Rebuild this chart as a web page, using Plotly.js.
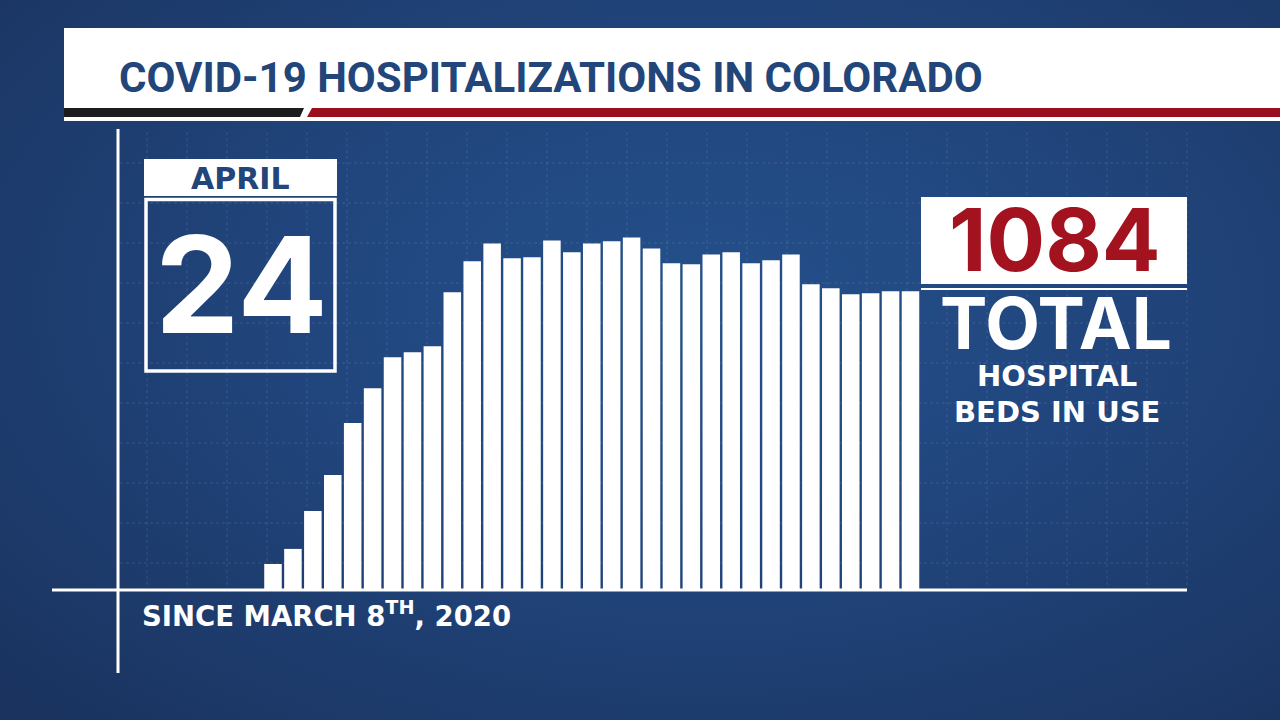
<!DOCTYPE html>
<html>
<head>
<meta charset="utf-8">
<script src="https://cdn.plot.ly/plotly-3.0.1.min.js"></script>
<style>
  html, body { margin: 0; padding: 0; width: 1280px; height: 720px; overflow: hidden;
    background: radial-gradient(ellipse 75% 80% at 55% 42%, #24508a 0%, #21467e 40%, #1d3b6c 75%, #1a335f 100%); }
  #chart { width: 1280px; height: 720px; }
</style>
</head>
<body>
<div id="chart"></div>
<script>
// ---- data ----
const days = ["Mar 23","Mar 24","Mar 25","Mar 26","Mar 27","Mar 28","Mar 29","Mar 30","Mar 31",
  "Apr 1","Apr 2","Apr 3","Apr 4","Apr 5","Apr 6","Apr 7","Apr 8","Apr 9","Apr 10","Apr 11",
  "Apr 12","Apr 13","Apr 14","Apr 15","Apr 16","Apr 17","Apr 18","Apr 19","Apr 20","Apr 21",
  "Apr 22","Apr 23","Apr 24"];
const hospitalized = [91,146,284,415,604,731,844,862,884,1080,1193,1258,1204,1208,1269,1226,1258,
  1266,1280,1240,1186,1182,1218,1226,1186,1197,1218,1109,1095,1073,1077,1084,1084];
const titleText = "COVID-19 HOSPITALIZATIONS IN COLORADO";
const monthLabel = "APRIL";
const dayLabel = "24";
const totalLabel = "TOTAL";
const subLabel1 = "HOSPITAL";
const subLabel2 = "BEDS IN USE";
const sinceLabel = "SINCE MARCH 8<sup>TH</sup>, 2020";

// ---- helpers (pixel -> paper) ----
const W = 1280, H = 720;
const px = x => x / W;
const py = y => 1 - y / H;

const navy = "#22457a";
const red = "#a3121f";
const bigFont = "Inter, 'Open Sans', sans-serif";
const wideFont = "'DejaVu Sans', Verdana, sans-serif";
const titleFont = "Roboto, 'Liberation Sans', sans-serif";

const shapes = [];
// dotted background grid
const gridStyle = {color: "rgba(140,170,215,0.22)", width: 1, dash: "dot"};
for (let x = 147; x <= 1187; x += 40) {
  shapes.push({type: "line", xref: "paper", yref: "paper", x0: px(x), x1: px(x), y0: py(132), y1: py(588), line: gridStyle, layer: "below"});
}
for (let y = 163; y <= 588; y += 40) {
  shapes.push({type: "line", xref: "paper", yref: "paper", x0: px(120), x1: px(1187), y0: py(y), y1: py(y), line: gridStyle, layer: "below"});
}
// title banner
shapes.push({type: "rect", xref: "paper", yref: "paper", x0: px(64), x1: px(1280), y0: py(28), y1: py(121), fillcolor: "#ffffff", line: {width: 0}, layer: "below"});
shapes.push({type: "path", xref: "paper", yref: "paper",
  path: `M ${px(64)} ${py(108)} L ${px(304)} ${py(108)} L ${px(300)} ${py(117)} L ${px(64)} ${py(117)} Z`,
  fillcolor: "#1c1c1c", line: {width: 0}, layer: "below"});
shapes.push({type: "path", xref: "paper", yref: "paper",
  path: `M ${px(312)} ${py(108)} L ${px(1280)} ${py(108)} L ${px(1280)} ${py(117)} L ${px(307)} ${py(117)} Z`,
  fillcolor: "#9a0f20", line: {width: 0}, layer: "below"});
// frame lines
shapes.push({type: "line", xref: "paper", yref: "paper", x0: px(118), x1: px(118), y0: py(129), y1: py(673), line: {color: "#ffffff", width: 3}});
shapes.push({type: "line", xref: "paper", yref: "paper", x0: px(52), x1: px(1187), y0: py(590), y1: py(590), line: {color: "#ffffff", width: 3}});
// date box
shapes.push({type: "rect", xref: "paper", yref: "paper", x0: px(144), x1: px(337), y0: py(159), y1: py(196), fillcolor: "#ffffff", line: {width: 0}});
shapes.push({type: "rect", xref: "paper", yref: "paper", x0: px(146), x1: px(335), y0: py(199.5), y1: py(371), fillcolor: "rgba(0,0,0,0)", line: {color: "#ffffff", width: 3.5}});
// total box
shapes.push({type: "rect", xref: "paper", yref: "paper", x0: px(921), x1: px(1187), y0: py(197), y1: py(284), fillcolor: "#ffffff", line: {width: 0}});
shapes.push({type: "line", xref: "paper", yref: "paper", x0: px(921), x1: px(1187), y0: py(289), y1: py(289), line: {color: "#ffffff", width: 2}});

const ann = (text, x, y, size, color, anchor, family) => ({
  text: text, xref: "paper", yref: "paper", x: px(x), y: py(y), showarrow: false,
  xanchor: anchor || "center", yanchor: "middle",
  font: {family: family || bigFont, size: size, color: color, weight: 700}
});

const annotations = [
  ann(titleText, 117, 77.5, 42, navy, "left", titleFont),
  ann(monthLabel, 240, 178.5, 30, navy, "center", wideFont),
  ann(dayLabel, 241, 284, 134, "#ffffff"),
  ann(String(hospitalized[hospitalized.length - 1]), 1055, 239.5, 87, red),
  ann(totalLabel, 1056, 322.5, 71, "#ffffff"),
  ann(subLabel1, 1057, 375.5, 29, "#ffffff", "center", wideFont),
  ann(subLabel2, 1057, 412, 29, "#ffffff", "center", wideFont),
  ann(sinceLabel, 140, 614, 27.5, "#ffffff", "left", wideFont)
];

const trace = {
  type: "bar", x: days, y: hospitalized,
  marker: {color: "#ffffff", line: {width: 0}},
  hoverinfo: "x+y"
};

const layout = {
  width: W, height: H,
  margin: {l: 0, r: 0, t: 0, b: 0, pad: 0},
  paper_bgcolor: "rgba(0,0,0,0)",
  plot_bgcolor: "rgba(0,0,0,0)",
  showlegend: false,
  bargap: 0.12,
  xaxis: {type: "category", domain: [px(120), px(920)], range: [-7.68, 32.477], visible: false, fixedrange: true},
  yaxis: {domain: [py(589), py(130)], range: [0, 1671], visible: false, fixedrange: true},
  shapes: shapes,
  annotations: annotations
};

Plotly.newPlot("chart", [trace], layout, {displayModeBar: false, staticPlot: true});
</script>
</body>
</html>
